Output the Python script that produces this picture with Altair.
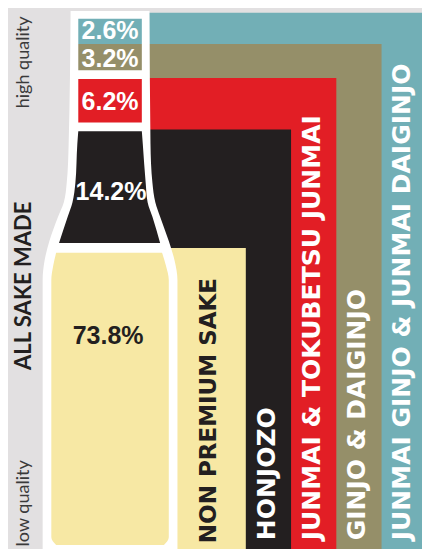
import altair as alt
import pandas as pd

# reference frame (units) for the stylised infographic
FRAME_W, FRAME_H = 430, 557

categories = ["JUNMAI GINJO & JUNMAI DAIGINJO", "GINJO & DAIGINJO",
              "JUNMAI & TOKUBETSU JUNMAI", "HONJOZO", "NON PREMIUM SAKE"]
shares = [2.6, 3.2, 6.2, 14.2, 73.8]
colors = ["#72afb6", "#958f69", "#e21e25", "#231f20", "#f7e8a4"]

# L-shaped bands (top edge and right edge of each band)
band_top = [5, 37, 72, 125, 247]
band_right = [430, 388, 341, 294, 247]
band_left = [100, 100, 100, 100, 100]

# bottle neck segments (rectangles)
neck_top = [11, 37, 73]
neck_bottom = [37, 64, 118]
neck_left = [73, 73, 73]
neck_right = [139, 139, 139]

# bottle silhouette (white outline)
sil_y = [3, 140, 180, 200, 215, 240, 260, 280, 557]
sil_l = [65, 63, 61, 58, 52, 43, 38, 36, 36]
sil_r = [147, 148, 150, 153, 158, 167, 173, 176, 176]

# black shoulder segment
sh_y = [127, 140, 180, 200, 215, 242]
sh_l = [73, 72, 70, 67, 62, 53]
sh_r = [139, 140, 143, 145, 150, 158]

# yellow body segment
body_y = [252, 265, 280, 545, 553]
body_l = [50, 47, 45, 45, 50]
body_r = [160, 164, 167, 167, 162]

pct_labels = ["2.6%", "3.2%", "6.2%", "14.2%", "73.8%"]
pct_x = [106, 106, 106, 107, 104]
pct_y = [24, 52, 97, 189, 338]
pct_color = ["#ffffff", "#ffffff", "#ffffff", "#ffffff", "#231f20"]

cat_x = [409, 363, 316, 269, 209]
cat_y0 = [548, 548, 548, 548, 551]
cat_color = ["#ffffff", "#ffffff", "#ffffff", "#ffffff", "#231f20"]
cat_size = [25, 25, 25, 25, 23]

side_labels = ["high quality", "ALL SAKE MADE", "low quality"]
side_x = [17, 17, 17]
side_y = [56, 286, 510]

xs = alt.Scale(domain=[0, FRAME_W], nice=False, zero=False)
ys = alt.Scale(domain=[0, FRAME_H], nice=False, zero=False, reverse=True)

bands = pd.DataFrame({"cat": categories, "top": band_top, "right": band_right,
                      "left": band_left, "bottom": [FRAME_H] * 5, "color": colors})
neck = pd.DataFrame({"top": neck_top, "bottom": neck_bottom, "left": neck_left,
                     "right": neck_right, "color": colors[:3]})
sil = pd.DataFrame({"y": sil_y, "l": sil_l, "r": sil_r})
sh = pd.DataFrame({"y": sh_y, "l": sh_l, "r": sh_r})
body = pd.DataFrame({"y": body_y, "l": body_l, "r": body_r})
pct = pd.DataFrame({"t": pct_labels, "x": pct_x, "y": pct_y, "c": pct_color})
cats = pd.DataFrame({"t": categories, "x": cat_x, "y": cat_y0, "c": cat_color, "s": cat_size})
side = pd.DataFrame({"t": side_labels, "x": side_x, "y": side_y})

band_layer = alt.Chart(bands).mark_rect().encode(
    x=alt.X("left:Q", scale=xs, axis=None), x2="right:Q",
    y=alt.Y("top:Q", scale=ys, axis=None), y2="bottom:Q",
    color=alt.Color("color:N", scale=None))

sil_layer = alt.Chart(sil).mark_area(orient="horizontal", interpolate="monotone", color="#ffffff").encode(
    y=alt.Y("y:Q", scale=ys, axis=None), x=alt.X("l:Q", scale=xs, axis=None), x2="r:Q")

sh_layer = alt.Chart(sh).mark_area(orient="horizontal", interpolate="monotone", color=colors[3]).encode(
    y=alt.Y("y:Q", scale=ys, axis=None), x=alt.X("l:Q", scale=xs, axis=None), x2="r:Q")

body_layer = alt.Chart(body).mark_area(orient="horizontal", interpolate="monotone", color=colors[4]).encode(
    y=alt.Y("y:Q", scale=ys, axis=None), x=alt.X("l:Q", scale=xs, axis=None), x2="r:Q")

neck_layer = alt.Chart(neck).mark_rect().encode(
    x=alt.X("left:Q", scale=xs, axis=None), x2="right:Q",
    y=alt.Y("top:Q", scale=ys, axis=None), y2="bottom:Q",
    color=alt.Color("color:N", scale=None))

pct_layer = alt.Chart(pct).mark_text(font="Liberation Sans", fontWeight="bold", fontSize=25,
                                     align="center", baseline="middle").encode(
    x=alt.X("x:Q", scale=xs, axis=None), y=alt.Y("y:Q", scale=ys, axis=None),
    text="t:N", color=alt.Color("c:N", scale=None))

cat_layer = alt.Chart(cats).mark_text(font="DejaVu Sans", fontWeight="bold", angle=270,
                                      align="left", baseline="middle").encode(
    x=alt.X("x:Q", scale=xs, axis=None), y=alt.Y("y:Q", scale=ys, axis=None),
    text="t:N", color=alt.Color("c:N", scale=None), size=alt.Size("s:Q", scale=None))

side_light = alt.Chart(side[side.t != "ALL SAKE MADE"]).mark_text(
    font="Lato", fontSize=18, angle=270, align="center", baseline="middle", color="#3a3a3a").encode(
    x=alt.X("x:Q", scale=xs, axis=None), y=alt.Y("y:Q", scale=ys, axis=None), text="t:N")

side_bold = alt.Chart(side[side.t == "ALL SAKE MADE"]).mark_text(
    font="Lato", fontWeight="bold", fontSize=22, angle=270, align="center", baseline="middle",
    color="#231f20").encode(
    x=alt.X("x:Q", scale=xs, axis=None), y=alt.Y("y:Q", scale=ys, axis=None), text="t:N")

chart = alt.layer(band_layer, sil_layer, sh_layer, body_layer, neck_layer,
                  pct_layer, cat_layer, side_light, side_bold).properties(
    width=414, height=541, autosize=alt.AutoSizeParams(type="none"), padding=0,
    background="#e2e0e1").configure_view(stroke=None)

chart.save("out.html", embed_options={"renderer": "svg", "actions": False})
